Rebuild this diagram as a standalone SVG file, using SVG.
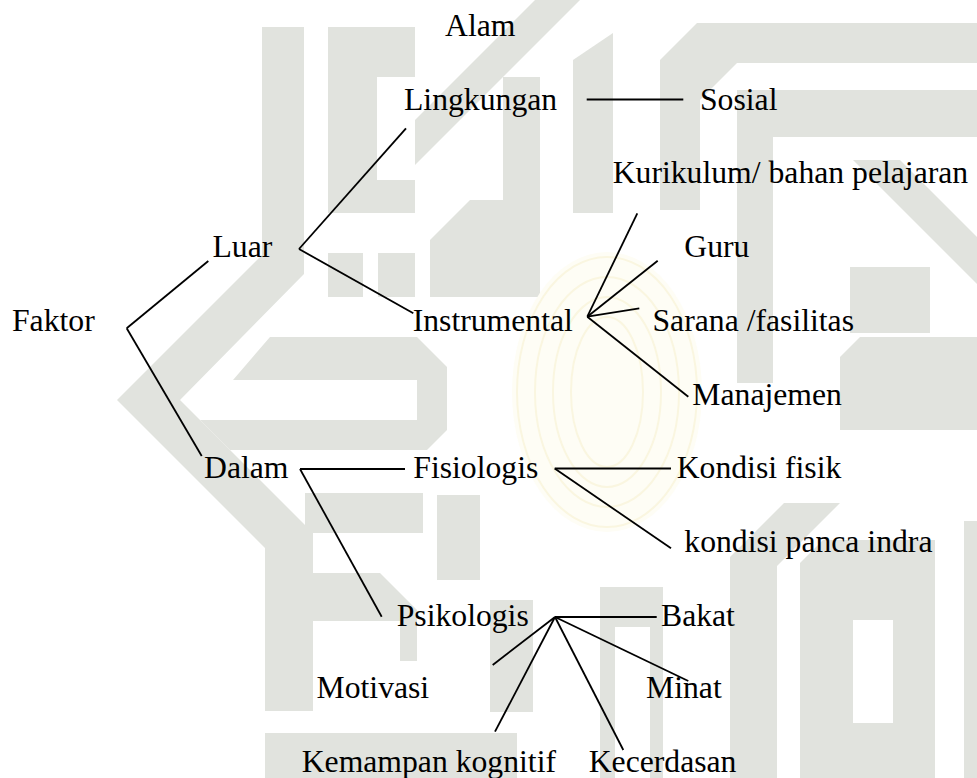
<svg xmlns="http://www.w3.org/2000/svg" width="977" height="778" viewBox="0 0 977 778">
<style>
.wm{fill:#e1e3de;stroke:none}
.wy{fill:none;stroke:#faf6e0;stroke-width:2}
.c{stroke:#000;stroke-width:1.8;fill:none;stroke-linecap:butt}
.t{font-family:'Liberation Serif','Times New Roman',serif;font-size:31.7px;fill:#000}
</style>
<rect width="977" height="778" fill="#fff"/>
<g id="watermark">
<polygon class="wm" points="262,27 304,27 304,274 180,400 313,533 313,711 265,711 265,548 117,400 262,255"/>
<polygon class="wm" points="270,337 417,337 447,367 447,430 427,450 230,450 200,420 417,420 417,380 233,380"/>
<rect class="wm" x="305" y="493" width="118" height="40"/>
<rect class="wm" x="437" y="495" width="43" height="85"/>
<polygon class="wm" points="313,573 380,573 417,610 417,661 400,661 400,621 313,621"/>
<rect class="wm" x="265" y="733" width="252" height="45"/>
<path class="wm" fill-rule="evenodd" d="M328,27H415V213H328Z M377,77H415V180H377Z"/>
<polygon class="wm" points="415,120 535,0 580,0 415,165"/>
<rect class="wm" x="328" y="253" width="35" height="44"/>
<rect class="wm" x="378" y="253" width="37" height="44"/>
<polygon class="wm" points="430,240 470,200 540,200 540,297 430,297"/>
<rect class="wm" x="503" y="77" width="37" height="123"/>
<polygon class="wm" points="573,60 613,33 613,213 573,213"/>
<polygon class="wm" points="660,210 660,60 697,23 977,23 977,63 737,63 700,100 700,210"/>
<polygon class="wm" points="737,90 977,90 977,137 773,137 773,383 737,383"/>
<polygon class="wm" points="853,160 900,160 977,237 977,284"/>
<rect class="wm" x="850" y="267" width="80" height="66"/>
<polygon class="wm" points="840,357 860,337 977,337 977,430 840,430"/>
<path class="wm" fill-rule="evenodd" d="M600,587H663V778H600Z M615,627H650V778H615Z"/>
<rect class="wm" x="490" y="600" width="43" height="112"/>
<polygon class="wm" points="730,778 730,557 784,503 840,503 777,566 777,778"/>
<path class="wm" fill-rule="evenodd" d="M800,778V563L823,540H935V778Z M853,620H893V723H853Z"/>
<rect class="wm" x="964" y="521" width="13" height="257"/>
<ellipse cx="607" cy="392" rx="95" ry="140" fill="#fefdf5"/>
<ellipse class="wy" cx="607" cy="392" rx="90" ry="135"/>
<ellipse class="wy" cx="607" cy="392" rx="72" ry="115"/>
<ellipse class="wy" cx="607" cy="392" rx="54" ry="95"/>
<ellipse class="wy" cx="607" cy="392" rx="36" ry="75"/>
</g>
<g id="connectors">
<line class="c" x1="126.7" y1="328.3" x2="208.3" y2="261"/>
<line class="c" x1="126.7" y1="328.3" x2="201.7" y2="456"/>
<line class="c" x1="299" y1="249" x2="406" y2="128.3"/>
<line class="c" x1="299" y1="249" x2="413.3" y2="313.3"/>
<line class="c" x1="586.7" y1="99.5" x2="683.3" y2="99.5"/>
<line class="c" x1="587.3" y1="316.7" x2="637.3" y2="213.3"/>
<line class="c" x1="587.3" y1="316.7" x2="657.7" y2="260.7"/>
<line class="c" x1="587.3" y1="316.7" x2="639.3" y2="308.3"/>
<line class="c" x1="587.3" y1="316.7" x2="688.3" y2="396.7"/>
<line class="c" x1="300" y1="469" x2="405" y2="469"/>
<line class="c" x1="300" y1="469" x2="381.7" y2="616.7"/>
<line class="c" x1="554.7" y1="468.5" x2="671" y2="468.5"/>
<line class="c" x1="554.7" y1="468.5" x2="671" y2="548.3"/>
<line class="c" x1="555" y1="617" x2="656.7" y2="617"/>
<line class="c" x1="555" y1="617" x2="688.3" y2="681"/>
<line class="c" x1="555" y1="617" x2="623.3" y2="750"/>
<line class="c" x1="555" y1="617" x2="495" y2="731.7"/>
<line class="c" x1="555" y1="617" x2="492.7" y2="665"/>
</g>
<g font-family="Liberation Serif, Times New Roman, serif" font-size="31.7">
<g id="n-faktor"><text class="t" x="12" y="331">Faktor</text></g>
<g id="n-luar"><text class="t" x="212.5" y="257.3">Luar</text></g>
<g id="n-dalam"><text class="t" x="204" y="477.7">Dalam</text></g>
<g id="n-alam"><text class="t" x="445" y="36">Alam</text></g>
<g id="n-lingkungan"><text class="t" x="404" y="110">Lingkungan</text></g>
<g id="n-sosial"><text class="t" x="700" y="110">Sosial</text></g>
<g id="n-instrumental"><text class="t" x="412.7" y="330.5">Instrumental</text></g>
<g id="n-kurikulum"><text class="t" x="612.7" y="182.7">Kurikulum/ bahan pelajaran</text></g>
<g id="n-guru"><text class="t" x="684.3" y="256.7">Guru</text></g>
<g id="n-sarana"><text class="t" x="652.5" y="331">Sarana /fasilitas</text></g>
<g id="n-manajemen"><text class="t" x="692.3" y="404.5">Manajemen</text></g>
<g id="n-fisiologis"><text class="t" x="413.3" y="477.7">Fisiologis</text></g>
<g id="n-kondisi-fisik"><text class="t" x="676.7" y="477.7">Kondisi fisik</text></g>
<g id="n-panca-indra"><text class="t" x="684.3" y="551.7">kondisi panca indra</text></g>
<g id="n-psikologis"><text class="t" x="396.7" y="625.7">Psikologis</text></g>
<g id="n-bakat"><text class="t" x="661" y="625.7">Bakat</text></g>
<g id="n-minat"><text class="t" x="646" y="697.8">Minat</text></g>
<g id="n-motivasi"><text class="t" x="316.5" y="698.2">Motivasi</text></g>
<g id="n-kemampan"><text class="t" x="301.7" y="771.5">Kemampan kognitif</text></g>
<g id="n-kecerdasan"><text class="t" x="588.7" y="771.5">Kecerdasan</text></g>
</g>
</svg>
